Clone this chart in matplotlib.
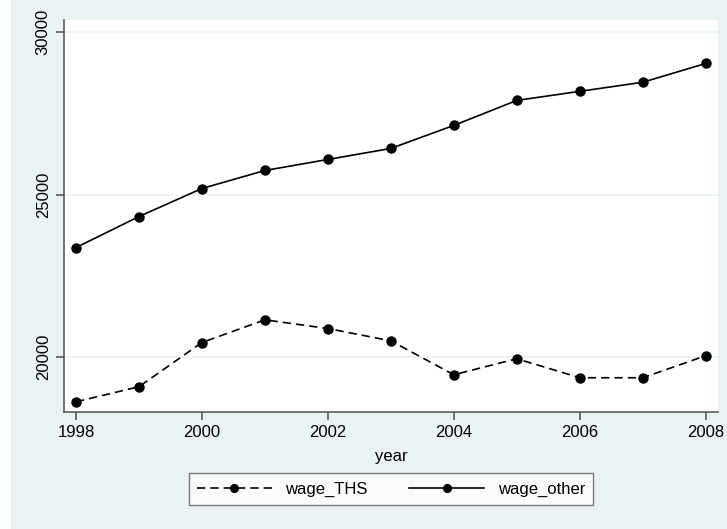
import matplotlib.pyplot as plt
from matplotlib.patches import Rectangle

plt.rcParams['font.family'] = ['Liberation Sans', 'DejaVu Sans']

years = [1998, 1999, 2000, 2001, 2002, 2003, 2004, 2005, 2006, 2007, 2008]
wage_THS = [18610, 19075, 20438, 21137, 20869, 20490, 19444, 19938, 19352, 19352, 20031]
wage_other = [23364, 24321, 25185, 25740, 26080, 26420, 27130, 27900, 28180, 28460, 29040]

bg = '#eaf2f3'
axcol = '#5a5a5a'

fig = plt.figure(figsize=(7.27, 5.29), dpi=100, facecolor=bg)
# white strip on the left edge of the picture
fig.patches.append(Rectangle((0, 0), 11 / 727, 1, transform=fig.transFigure,
                             facecolor='white', edgecolor='none', zorder=0))
ax = fig.add_axes([64 / 727, 1 - 412 / 529, 654 / 727, 392 / 529])
ax.set_facecolor('white')

l1, = ax.plot(years, wage_THS, color='black', linestyle=(0, (5, 3)), linewidth=1.2,
              marker='o', markersize=6.5, label='wage_THS')
l2, = ax.plot(years, wage_other, color='black', linestyle='-', linewidth=1.2,
              marker='o', markersize=6.5, label='wage_other')

ax.set_xlim(1997.81, 2008.195)
ax.set_ylim(18296, 30379)
ax.set_xticks([1998, 2000, 2002, 2004, 2006, 2008])
ax.set_yticks([20000, 25000, 30000])
ax.grid(axis='y', color=bg, linewidth=1.2)
ax.set_axisbelow(True)

for s in ['top', 'right']:
    ax.spines[s].set_visible(False)
for s in ['left', 'bottom']:
    ax.spines[s].set_color(axcol)
    ax.spines[s].set_linewidth(1.2)

ax.tick_params(axis='both', colors=axcol, labelcolor='black', length=6, width=1.2,
               labelsize=12)
for lab in ax.get_yticklabels():
    lab.set_rotation(90)
    lab.set_va('center')
ax.set_xlabel('year', fontsize=12, labelpad=6)

leg = fig.legend(handles=[l1, l2], loc='center', bbox_to_anchor=(391 / 727, 1 - 489 / 529),
                 ncol=2, frameon=True, fancybox=False, fontsize=12, handlelength=4.5,
                 columnspacing=2.5, borderpad=0.5, markerscale=0.85)
leg.get_frame().set_edgecolor(axcol)
leg.get_frame().set_linewidth(1.0)

fig.savefig('out.png', dpi=100, facecolor=bg)
